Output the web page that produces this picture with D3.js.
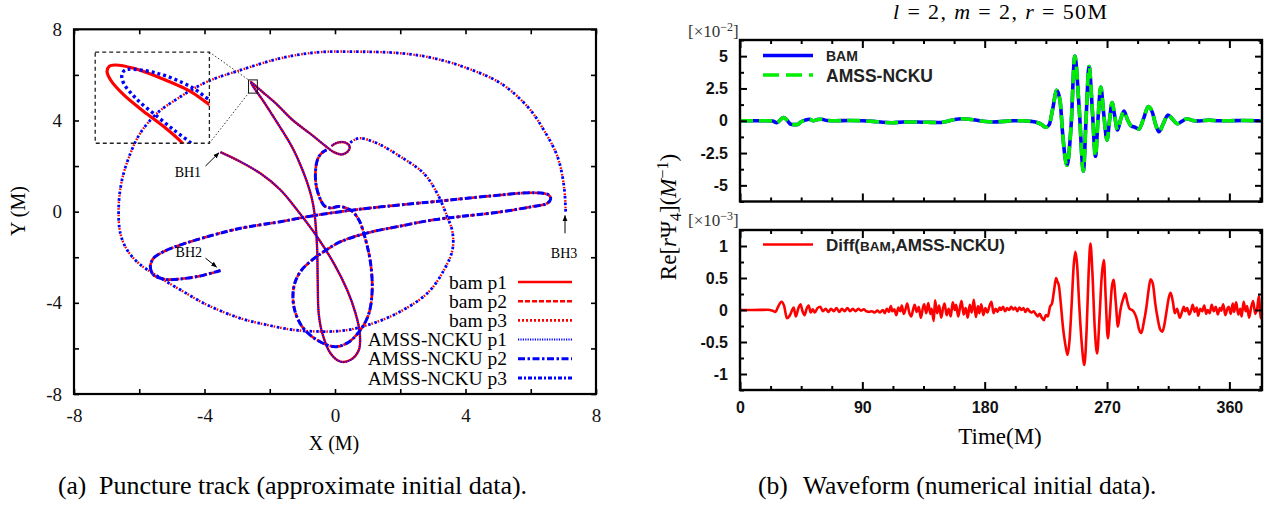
<!DOCTYPE html>
<html>
<head>
<meta charset="utf-8">
<script src="https://cdn.jsdelivr.net/npm/d3@7"></script>
<style>
  body { margin: 0; background: #fff; }
  svg { display: block; }
</style>
</head>
<body>
<svg id="fig" width="1276" height="506"></svg>
<script>
// ---------------- Panel (a): puncture tracks (X, Y in units of M) ----------------
const trackP1 = [[-3.51,2.61],[-2.90,2.19],[-2.29,1.68],[-1.67,0.95],[-1.16,0.07],[-0.55,-1.10],[-0.04,-2.26],
  [0.37,-3.43],[0.63,-4.46],[0.76,-5.33],[0.73,-6.07],[0.48,-6.50],[0.17,-6.58],[-0.14,-6.21],[-0.39,-5.33],
  [-0.50,-4.46],[-0.53,-3.00],[-0.55,-1.54],[-0.63,-0.06],[-0.72,0.64],[-0.87,1.35],[-1.06,2.05],[-1.30,2.79],
  [-1.61,3.54],[-1.92,4.24],[-2.22,4.90],[-2.50,5.47],[-2.58,5.69],[-2.47,5.56],[-2.22,5.25],[-1.83,4.77],
  [-1.30,4.02],[-0.75,3.41],[-0.29,2.88],[-0.05,2.62],[0.20,2.51],[0.38,2.62],[0.45,2.85],[0.32,3.03],
  [0.08,3.03],[-0.11,2.88]];
const trackP2 = [[-3.51,-2.58],[-4.13,-2.82],[-4.74,-2.95],[-5.20,-2.97],[-5.56,-2.78],[-5.66,-2.41],[-5.56,-2.04],
  [-5.25,-1.75],[-4.74,-1.46],[-3.92,-1.10],[-2.90,-0.73],[-1.67,-0.44],[-0.85,-0.22],[0.17,0.00],[1.40,0.21],
  [3.03,0.44],[4.77,0.69],[6.10,0.83],[6.55,0.73],[6.61,0.56],[6.51,0.37],[6.00,0.21],[5.08,-0.01],[3.02,-0.36],
  [2.01,-0.63],[1.00,-0.93],[0.17,-1.32],[-0.34,-1.75],[-0.70,-2.12],[-1.06,-2.63],[-1.26,-3.29],[-1.26,-4.17],
  [-1.01,-5.04],[-0.55,-5.63],[-0.04,-5.92],[0.37,-5.77],[0.78,-5.19],[1.04,-4.46],[1.14,-3.43],[1.09,-2.26],
  [0.94,-1.24],[0.73,-0.36],[0.48,0.07],[0.11,0.23],[-0.11,0.16],[-0.32,0.25],[-0.44,0.51],[-0.57,1.10],
  [-0.60,1.68],[-0.54,2.27],[-0.41,2.57],[-0.26,2.71]];
const trackP3 = [[7.07,0.00],[7.02,1.10],[6.82,2.41],[6.40,3.58],[5.90,4.61],[5.08,5.63],[4.06,6.29],[3.03,6.73],
  [2.01,6.95],[0.48,7.02],[-0.55,6.99],[-1.67,6.73],[-2.90,6.21],[-3.92,5.70],[-4.74,5.04],[-5.45,4.32],
  [-5.97,3.44],[-6.27,2.56],[-6.53,1.39],[-6.63,0.22],[-6.58,-0.95],[-6.37,-1.68],[-6.03,-2.25],[-5.45,-2.82],
  [-4.74,-3.43],[-3.92,-4.09],[-2.90,-4.68],[-2.08,-4.97],[-1.26,-5.19],[-0.44,-5.26],[0.17,-5.23],[0.78,-5.07],
  [1.80,-4.53],[2.83,-3.58],[3.34,-2.56],[3.60,-1.68],[3.60,-0.89],[3.44,-0.22],[3.13,0.81],[2.72,1.68],
  [2.01,2.41],[1.29,3.00],[0.78,3.22],[0.58,3.14],[0.45,3.01]];
// At the scale of the full plot the two codes' tracks coincide
const bamTracks = [trackP1, trackP2, trackP3];
const amssTracks = [trackP1, trackP2, trackP3];

// Magnified turning point of p1 (region zoomBox), where the two codes separate
const zoomBox = { x: [-2.65, -2.38], y: [5.20, 5.78] };
const insetFrame = { x: [-7.35, -3.85], y: [3.0, 7.0] };
const insetBam = [[-2.435,5.175],[-2.449,5.215],[-2.488,5.306],[-2.536,5.404],[-2.583,5.509],[-2.614,5.604],
  [-2.622,5.656],[-2.617,5.689],[-2.603,5.698],[-2.559,5.677],[-2.504,5.624],[-2.425,5.530],[-2.380,5.446],[-2.368,5.430]];
const insetAmss = [[-2.413,5.175],[-2.425,5.205],[-2.461,5.278],[-2.504,5.372],[-2.551,5.478],[-2.583,5.583],
  [-2.587,5.635],[-2.581,5.663],[-2.571,5.671],[-2.504,5.646],[-2.425,5.561],[-2.380,5.478],[-2.368,5.465]];

const bhNotes = [
  { name: "BH1", text: [-4.51, 1.75], tail: [-3.97, 2.00], head: [-3.56, 2.58] },
  { name: "BH2", text: [-4.48, -1.78], tail: [-3.97, -2.04], head: [-3.63, -2.43] },
  { name: "BH3", text: [7.02, -1.81], tail: [7.05, -0.95], head: [7.05, -0.17] }
];
const legendA = ["bam p1", "bam p2", "bam p3", "AMSS-NCKU p1", "AMSS-NCKU p2", "AMSS-NCKU p3"];
const ticksA = [-8, -6, -4, -2, 0, 2, 4, 6, 8];
const labelledA = [-8, -4, 0, 4, 8];

// ---------------- Panel (b): l=2, m=2 waveform at r = 50M ----------------
const timeLabels = [0, 90, 180, 270, 360];
const psiLabels = [-5, -2.5, 0, 2.5, 5];       // units of 1e-2
const diffLabels = [-1, -0.5, 0, 0.5, 1];      // units of 1e-3
// Re[r Psi4] (x 1e-2) against time
const waveBam = [[0,0],[10,0],[20,0],[24,-0.02],[27,-0.15],[29.5,0.05],[32,0.25],[34.5,0.05],[37,-0.25],[39.5,-0.3],
  [42,-0.3],[45,-0.08],[48,0.05],[51,0.12],[54,0.0],[57,0.1],[60,0.12],[64,0.02],[70,0.0],[80,0.02],[90,0.0],
  [98,-0.05],[105,-0.12],[112,-0.15],[120,-0.1],[130,-0.1],[138,-0.12],[146,-0.14],[152,-0.05],[158,0.1],
  [163,0.15],[170,0.1],[178,-0.03],[186,-0.1],[194,-0.05],[200,0.0],[208,0.0],[214,-0.05],[219,-0.15],
  [222,-0.3],[225,-0.5],[227.5,-0.3],[230,0.9],[233,2.35],[235.5,1.5],[237.5,-1.2],[240.5,-3.45],[243.5,-0.5],
  [246.3,5.0],[249.5,1.0],[252.6,-3.9],[254.6,0.2],[256.8,4.2],[259.2,0.8],[261.5,-2.75],[263.4,0.2],
  [265.4,2.6],[267.6,0.5],[270,-1.5],[271.8,0.0],[273.7,1.4],[275.6,0.4],[277.7,-0.72],[280,0.1],[282.4,0.75],
  [285,0.1],[287.8,-0.4],[290.5,-0.5],[293.5,-0.65],[297,0.2],[300.3,1.1],[303.5,0.6],[305.5,-0.2],[308.2,-0.85],
  [311.5,-0.2],[314.8,0.45],[318,0.15],[321.8,-0.23],[325,-0.05],[328.8,0.15],[333,0.02],[338,-0.02],[345,0.05],
  [352,0.0],[360,0.0],[370,0.02],[384,0.0]];
// AMSS-NCKU agrees with BAM to within the line width
const waveAmss = waveBam;
// Difference BAM - AMSS-NCKU (x 1e-3)
const waveDiff = [[0,0],[10,0],[20,0.003],[24,-0.01],[26,-0.03],[28,0.05],[30.5,0.13],[32.5,0.06],[34.5,-0.13],
  [36.5,-0.09],[38,-0.02],[39.5,0.04],[41,-0.1],[43,0.03],[44.5,0.09],[46,-0.02],[47.5,-0.08],[49,0.02],[50.5,0.07],
  [52,-0.04],[53.5,0.01],[55,-0.04],[57,0.03],[59,0.05],[61,-0.02],[63,0.02],[65,-0.03],[67,0.02],[69,-0.02],
  [71,0.03],[73,-0.03],[75,0.02],[77,-0.02],[79,0.03],[81,-0.02],[83,0.02],[85,-0.02],[87,0.02],[89,-0.01],
  [91,0.01],[93,-0.02],[95,-0.03],[97,-0.02],[99,-0.04],[101,-0.01],[103,-0.04],
  [105,0.0],[106.5,-0.05],[108,0.02],[109.5,-0.03],[111,0.06],[112,-0.02],[113.5,0.01],[115,-0.08],[116.5,0.04],
  [118,-0.02],[119,0.07],[120.5,-0.06],[122,0.03],[123,0.1],[124.5,-0.04],[126,-0.1],[127.5,0.02],[128.5,0.08],
  [130,-0.03],[131.5,0.05],[133,-0.12],[134.5,0.03],[135.5,0.09],[137,-0.05],[138.5,0.11],[140,-0.06],[141,0.02],
  [142.5,-0.17],[143.5,0.15],[145,-0.05],[146.5,0.07],[148,-0.12],[149.5,0.04],[150.5,0.1],[152,-0.08],[153.5,0.02],
  [155,-0.1],[156.5,0.12],[158,0.0],[159,0.08],[160.5,-0.1],[162,0.06],[163,0.14],[164.5,-0.07],[166,0.03],
  [167.5,-0.12],[169,0.08],[170.5,-0.04],[172,0.16],[173.5,-0.11],[175,0.06],[176,-0.05],[177.5,0.09],[179,-0.08],
  [180.5,0.03],[182,-0.04],[183.5,0.06],[185,0.13],[186.5,-0.05],[188,0.02],[189.5,-0.03],[191,0.04],[192,0.0],
  [193.5,0.05],[195,-0.02],[196.5,0.03],[198,0.0],[199.5,0.05],[201,0.01],[202.5,0.04],[204,-0.02],[205.5,0.04],
  [207,0.0],[208.5,0.03],[210,-0.03],[211.5,0.02],[213,-0.02],[214.5,-0.04],[216,-0.02],[217.5,-0.06],
  [219,-0.1],[220.5,-0.06],[222,-0.12],[223.5,-0.16],[225,-0.08],[226.5,-0.1],[228,0.05],[229.5,0.1],
  [231,0.3],[232.5,0.5],[233.5,0.44],[234.5,0.39],[236,0.1],[237.5,-0.25],[238.6,-0.44],[240,-0.62],[241,-0.7],
  [242.5,-0.45],[244,0.1],[245.5,0.7],[246.7,0.91],[248,0.7],[249.5,0.1],[251.5,-0.55],[253.3,-0.86],[255,-0.3],
  [256.5,0.6],[257.8,1.04],[259.2,0.6],[261,-0.3],[262.7,-0.68],[264.5,-0.1],[266,0.5],[267.7,0.78],[269,0.2],
  [270.6,-0.44],[272,-0.1],[273.5,0.35],[274.8,0.47],[276.5,0.1],[278,-0.26],[279.5,-0.05],[280.4,0.06],[282,0.18],
  [283.4,0.26],[285,0.12],[286.6,0.02],[288.5,0.0],[290.3,-0.05],[292,-0.15],[293.5,-0.3],[295.2,-0.36],[297,-0.2],
  [299,0.05],[300.5,0.3],[302,0.48],[303.8,0.4],[305.5,0.1],[307.5,-0.16],[309,-0.3],[310.7,-0.34],[312,-0.25],
  [313.7,-0.03],[315.5,0.2],[316.8,0.27],[318.5,0.12],[319.8,-0.05],[321.5,0.02],[323.5,-0.12],[325,-0.04],
  [326.5,0.05],[327.5,-0.02],[329,0.03],[330.5,-0.07],[332,0.01],[333,0.08],[334.5,-0.03],[336,0.04],[337,-0.09],
  [338.5,0.02],[340,-0.02],[341.5,0.07],[343,-0.06],[344,0.0],[345.5,-0.05],[347,0.08],[348.5,-0.02],[350,0.05],
  [351.5,-0.07],[353,0.03],[354,-0.01],[355.5,0.09],[357,-0.08],[358.5,0.02],[359.5,0.05],[361,-0.06],[362.5,0.1],
  [363.5,-0.03],[365,0.12],[366.5,-0.07],[368,0.02],[369,-0.1],[370.5,0.13],[372,-0.02],[373,0.06],[374.5,-0.12],
  [376,0.04],[377.5,0.14],[379,-0.06],[380.5,0.03],[381.8,0.22],[383,-0.13],[384,-0.05]];

// ---------------- drawing ----------------
const svg = d3.select("#fig");
const serif = "'Liberation Serif','Times New Roman',serif";
const sans = "'Liberation Sans',Arial,Helvetica,sans-serif";
const RED = "#ff0000", BLUE = "#0000ff", GREEN = "#00ee00";

// ======== Panel (a) ========
const xA = d3.scaleLinear().domain([-8, 8]).range([74, 596]);
const yA = d3.scaleLinear().domain([-8, 8]).range([394, 29.3]);
const gA = svg.append("g");

const bamStyle = [
  { width: 2.4, dash: null, offset: 0 },
  { width: 2.6, dash: "5,2", offset: 0 },
  { width: 2.4, dash: "1.6,5", offset: -3.4 }
];
const amssStyle = [
  { width: 2.0, dash: "1.2,1.2", offset: 0 },
  { width: 3.0, dash: "7,2.5,2.5,2.5", offset: 0 },
  { width: 2.8, dash: "2.6,4", offset: 0 }
];
const trackLine = d3.line().x(d => xA(d[0])).y(d => yA(d[1])).curve(d3.curveCatmullRom.alpha(0.5));

bamTracks.forEach((tr, i) => {
  gA.append("path").attr("d", trackLine(tr)).attr("fill", "none")
    .attr("stroke", RED).attr("stroke-width", bamStyle[i].width)
    .attr("stroke-dasharray", bamStyle[i].dash).attr("stroke-dashoffset", bamStyle[i].offset);
});
amssTracks.forEach((tr, i) => {
  gA.append("path").attr("d", trackLine(tr)).attr("fill", "none")
    .attr("stroke", BLUE).attr("stroke-width", amssStyle[i].width)
    .attr("stroke-dasharray", amssStyle[i].dash).attr("stroke-dashoffset", amssStyle[i].offset);
});

// inset: magnified view of the turning point
const ix0 = xA(insetFrame.x[0]), ix1 = xA(insetFrame.x[1]);
const iy0 = yA(insetFrame.y[1]), iy1 = yA(insetFrame.y[0]);
const xI = d3.scaleLinear().domain(zoomBox.x).range([ix0, ix1]);
const yI = d3.scaleLinear().domain(zoomBox.y).range([iy1, iy0]);
const defs = svg.append("defs");
defs.append("clipPath").attr("id", "insetClip")
  .append("rect").attr("x", ix0).attr("y", iy0).attr("width", ix1 - ix0).attr("height", iy1 - iy0);
const insetLine = d3.line().x(d => xI(d[0])).y(d => yI(d[1])).curve(d3.curveCatmullRom.alpha(0.5));
const gI = gA.append("g").attr("clip-path", "url(#insetClip)");
gI.append("path").attr("d", insetLine(insetBam)).attr("fill", "none")
  .attr("stroke", RED).attr("stroke-width", 3.2);
gI.append("path").attr("d", insetLine(insetAmss)).attr("fill", "none")
  .attr("stroke", BLUE).attr("stroke-width", 3.4).attr("stroke-dasharray", "3,3");
gA.append("rect").attr("x", ix0).attr("y", iy0).attr("width", ix1 - ix0).attr("height", iy1 - iy0)
  .attr("fill", "none").attr("stroke", "#222").attr("stroke-width", 1.3).attr("stroke-dasharray", "4,3");
const bx0 = xA(zoomBox.x[0]), bx1 = xA(zoomBox.x[1]), by0 = yA(zoomBox.y[1]), by1 = yA(zoomBox.y[0]);
gA.append("rect").attr("x", bx0).attr("y", by0).attr("width", bx1 - bx0).attr("height", by1 - by0)
  .attr("fill", "none").attr("stroke", "#111").attr("stroke-width", 1);
[[ix1, iy0, bx0, by0], [ix1, iy1, bx0, by1]].forEach(s => {
  gA.append("line").attr("x1", s[0]).attr("y1", s[1]).attr("x2", s[2]).attr("y2", s[3])
    .attr("stroke", "#333").attr("stroke-width", 1).attr("stroke-dasharray", "1.5,2");
});

// axes of panel (a): inward ticks on all four sides
const fmtA = d => labelledA.includes(d) ? String(d) : "";
function styleAxis(g, fontFamily, fontSize, weight) {
  g.select(".domain").remove();
  g.selectAll(".tick line").attr("stroke", "#000").attr("stroke-width", 1.6);
  g.selectAll(".tick text").attr("fill", "#111").style("font-family", fontFamily)
    .style("font-size", fontSize).style("font-weight", weight || "normal");
}
styleAxis(gA.append("g").attr("transform", "translate(0,394)")
  .call(d3.axisBottom(xA).tickValues(ticksA).tickFormat(fmtA).tickSizeInner(-5).tickSizeOuter(0).tickPadding(15)), serif, "19px");
styleAxis(gA.append("g").attr("transform", "translate(0,29.3)")
  .call(d3.axisTop(xA).tickValues(ticksA).tickFormat("").tickSizeInner(-5).tickSizeOuter(0)), serif, "19px");
styleAxis(gA.append("g").attr("transform", "translate(74,0)")
  .call(d3.axisLeft(yA).tickValues(ticksA).tickFormat(fmtA).tickSizeInner(-5).tickSizeOuter(0).tickPadding(12)), serif, "19px");
styleAxis(gA.append("g").attr("transform", "translate(596,0)")
  .call(d3.axisRight(yA).tickValues(ticksA).tickFormat("").tickSizeInner(-5).tickSizeOuter(0)), serif, "19px");
gA.append("rect").attr("x", 74).attr("y", 29.3).attr("width", 522).attr("height", 364.7)
  .attr("fill", "none").attr("stroke", "#000").attr("stroke-width", 2.2);

gA.append("text").attr("x", 334).attr("y", 450).attr("text-anchor", "middle")
  .style("font-family", serif).style("font-size", "20px").text("X (M)");
gA.append("text").attr("transform", "translate(25,211) rotate(-90)").attr("text-anchor", "middle")
  .style("font-family", serif).style("font-size", "20px").text("Y (M)");

// BH labels with arrows
defs.append("marker").attr("id", "arrowHead").attr("viewBox", "0 0 10 10").attr("refX", 9).attr("refY", 5)
  .attr("markerWidth", 6).attr("markerHeight", 6).attr("markerUnits", "userSpaceOnUse").attr("orient", "auto")
  .append("path").attr("d", "M0,1 L10,5 L0,9 Z").attr("fill", "#000");
bhNotes.forEach(n => {
  gA.append("text").attr("x", xA(n.text[0])).attr("y", yA(n.text[1])).attr("dy", "0.35em")
    .attr("text-anchor", "middle").style("font-family", serif).style("font-size", "14px").text(n.name);
  gA.append("line").attr("x1", xA(n.tail[0])).attr("y1", yA(n.tail[1]))
    .attr("x2", xA(n.head[0])).attr("y2", yA(n.head[1]))
    .attr("stroke", "#000").attr("stroke-width", 1).attr("marker-end", "url(#arrowHead)");
});

// legend of panel (a)
const legStyles = [
  { c: RED, s: bamStyle[0] }, { c: RED, s: bamStyle[1] }, { c: RED, s: { width: 2.6, dash: "2,2" } },
  { c: BLUE, s: amssStyle[0] }, { c: BLUE, s: amssStyle[1] }, { c: BLUE, s: { width: 3.0, dash: "4,2,2,2" } }
];
legendA.forEach((lab, i) => {
  const cy = 282 + i * 19.2;
  gA.append("text").attr("x", 507).attr("y", cy + 6.5).attr("text-anchor", "end")
    .style("font-family", serif).style("font-size", "19.5px").text(lab);
  gA.append("line").attr("x1", 518).attr("x2", 572).attr("y1", cy).attr("y2", cy)
    .attr("stroke", legStyles[i].c).attr("stroke-width", legStyles[i].s.width)
    .attr("stroke-dasharray", legStyles[i].s.dash);
});

// caption (a)
svg.append("text").attr("x", 58).attr("y", 494).style("font-family", serif).style("font-size", "25.5px").text("(a)");
svg.append("text").attr("x", 99).attr("y", 494).style("font-family", serif).style("font-size", "26px")
  .text("Puncture track (approximate initial data).");

// ======== Panel (b) ========
const xB = d3.scaleLinear().domain([0, 384]).range([740, 1262]);
const yTop = d3.scaleLinear().domain([-6.25, 6.25]).range([201.5, 40]);
const yBot = d3.scaleLinear().domain([-1.25, 1.25]).range([390, 230]);
const gB = svg.append("g");

const timeMinor = d3.range(0, 384, 22.5).filter(t => !timeLabels.includes(t));

function frame(yS, yMajor, box, showTimeLabels) {
  const yMinor = d3.range(yS.domain()[0], yS.domain()[1] + 1e-9, (yMajor[1] - yMajor[0]) / 2)
    .filter(v => !yMajor.some(m => Math.abs(m - v) < 1e-9));
  const [top, bot] = [box[0], box[1]];
  const g = gB.append("g");
  styleAxis(g.append("g").attr("transform", `translate(0,${bot})`)
    .call(d3.axisBottom(xB).tickValues(timeLabels).tickFormat(showTimeLabels ? d3.format("d") : "")
      .tickSizeInner(-8).tickSizeOuter(0).tickPadding(12)), sans, "16px", "bold");
  styleAxis(g.append("g").attr("transform", `translate(0,${bot})`)
    .call(d3.axisBottom(xB).tickValues(timeMinor).tickFormat("").tickSizeInner(-4).tickSizeOuter(0)), sans, "16px");
  styleAxis(g.append("g").attr("transform", `translate(0,${top})`)
    .call(d3.axisTop(xB).tickValues(timeLabels).tickFormat("").tickSizeInner(-8).tickSizeOuter(0)), sans, "16px");
  styleAxis(g.append("g").attr("transform", `translate(0,${top})`)
    .call(d3.axisTop(xB).tickValues(timeMinor).tickFormat("").tickSizeInner(-4).tickSizeOuter(0)), sans, "16px");
  styleAxis(g.append("g").attr("transform", "translate(740,0)")
    .call(d3.axisLeft(yS).tickValues(yMajor).tickFormat(d => String(d)).tickSizeInner(-7).tickSizeOuter(0).tickPadding(12)),
    sans, "16px", "bold");
  styleAxis(g.append("g").attr("transform", "translate(740,0)")
    .call(d3.axisLeft(yS).tickValues(yMinor).tickFormat("").tickSizeInner(-4).tickSizeOuter(0)), sans, "16px");
  styleAxis(g.append("g").attr("transform", "translate(1262,0)")
    .call(d3.axisRight(yS).tickValues(yMajor).tickFormat("").tickSizeInner(-7).tickSizeOuter(0)), sans, "16px");
  styleAxis(g.append("g").attr("transform", "translate(1262,0)")
    .call(d3.axisRight(yS).tickValues(yMinor).tickFormat("").tickSizeInner(-4).tickSizeOuter(0)), sans, "16px");
  g.selectAll(".tick line").attr("stroke-width", 2);
  g.append("rect").attr("x", 740).attr("y", top).attr("width", 522).attr("height", bot - top)
    .attr("fill", "none").attr("stroke", "#000").attr("stroke-width", 2.4);
}

// curves
const waveLine = yS => d3.line().x(d => xB(d[0])).y(d => yS(d[1])).curve(d3.curveMonotoneX);
gB.append("path").attr("d", waveLine(yTop)(waveBam)).attr("fill", "none")
  .attr("stroke", BLUE).attr("stroke-width", 3.6).attr("stroke-linejoin", "round");
gB.append("path").attr("d", waveLine(yTop)(waveAmss)).attr("fill", "none")
  .attr("stroke", GREEN).attr("stroke-width", 3.6).attr("stroke-dasharray", "13,6");
gB.append("path").attr("d", waveLine(yBot)(waveDiff)).attr("fill", "none")
  .attr("stroke", RED).attr("stroke-width", 2.6).attr("stroke-linejoin", "round");

frame(yTop, psiLabels, [40, 201.5], false);
frame(yBot, diffLabels, [230, 390], true);

// legends of panel (b)
gB.append("line").attr("x1", 763).attr("x2", 813).attr("y1", 55.5).attr("y2", 55.5)
  .attr("stroke", BLUE).attr("stroke-width", 3.6);
gB.append("text").attr("x", 826).attr("y", 61).style("font-family", sans).style("font-weight", "bold")
  .style("font-size", "14px").attr("fill", "#222").text("BAM");
gB.append("line").attr("x1", 763).attr("x2", 813).attr("y1", 75).attr("y2", 75)
  .attr("stroke", GREEN).attr("stroke-width", 3.6).attr("stroke-dasharray", "16,7");
gB.append("text").attr("x", 826).attr("y", 81.5).style("font-family", sans).style("font-weight", "bold")
  .style("font-size", "17.5px").attr("fill", "#222").text("AMSS-NCKU");

gB.append("line").attr("x1", 763).attr("x2", 813).attr("y1", 244.5).attr("y2", 244.5)
  .attr("stroke", RED).attr("stroke-width", 2.6);
const dl = gB.append("text").attr("x", 826).attr("y", 250.5).style("font-family", sans)
  .style("font-weight", "bold").style("font-size", "17px").attr("fill", "#222");
dl.append("tspan").text("Diff(");
dl.append("tspan").style("font-size", "13.5px").text("BAM");
dl.append("tspan").text(",AMSS-NCKU)");

// exponent markers
function expLabel(y, p) {
  const t = gB.append("text").attr("x", 688).attr("y", y).style("font-family", serif).style("font-size", "17px").attr("fill", "#333");
  t.append("tspan").text("[×10");
  t.append("tspan").attr("dy", -6).style("font-size", "12px").text("−" + p);
  t.append("tspan").attr("dy", 6).text("]");
}
expLabel(37, 2);
expLabel(226, 3);

// title, spread over the same width as the typeset math
const title = gB.append("text").attr("x", 893).attr("y", 19)
  .attr("textLength", 214).attr("lengthAdjust", "spacing")
  .style("font-family", serif).style("font-size", "22px");
title.append("tspan").style("font-style", "italic").text("l");
title.append("tspan").text(" = 2, ");
title.append("tspan").style("font-style", "italic").text("m");
title.append("tspan").text(" = 2, ");
title.append("tspan").style("font-style", "italic").text("r");
title.append("tspan").text(" = 50M");

// axis titles
gB.append("text").attr("x", 1000).attr("y", 444).attr("text-anchor", "middle")
  .style("font-family", serif).style("font-size", "23px").text("Time(M)");
const yl = gB.append("text").attr("transform", "translate(676,217) rotate(-90)").attr("text-anchor", "middle")
  .style("font-family", serif).style("font-size", "23px");
yl.append("tspan").text("Re[");
yl.append("tspan").style("font-style", "italic").text("r");
yl.append("tspan").text("Ψ");
yl.append("tspan").attr("dy", 5).style("font-size", "16px").text("4");
yl.append("tspan").attr("dy", -5).text("](");
yl.append("tspan").style("font-style", "italic").text("M");
yl.append("tspan").attr("dy", -8).style("font-size", "16px").text("−1");
yl.append("tspan").attr("dy", 8).text(")");

// caption (b)
svg.append("text").attr("x", 758).attr("y", 494).style("font-family", serif).style("font-size", "25.5px").text("(b)");
svg.append("text").attr("x", 803).attr("y", 494).style("font-family", serif).style("font-size", "25.5px")
  .text("Waveform (numerical initial data).");
</script>
</body>
</html>
